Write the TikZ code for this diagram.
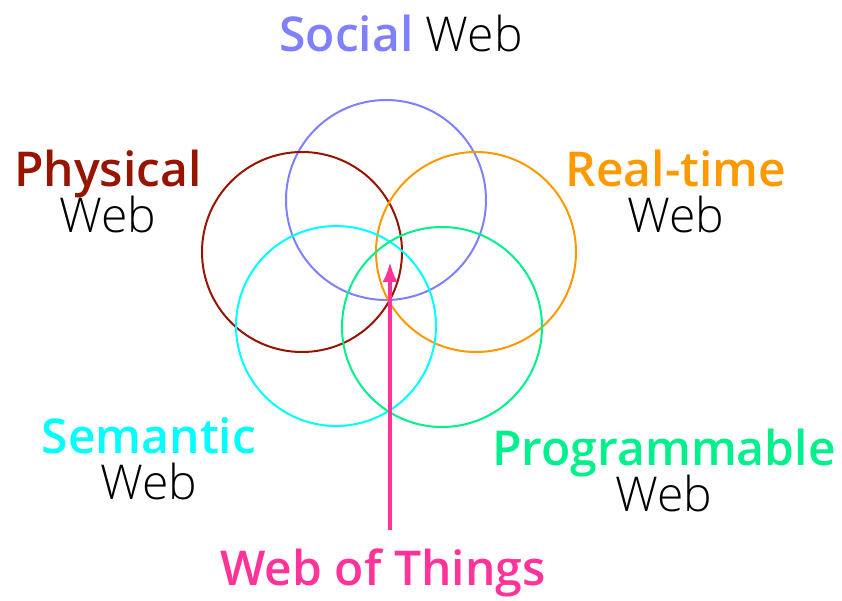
\documentclass[tikz,border=0pt]{standalone}
\usepackage{fontspec}
\setmainfont[UprightFont={Open Sans Light},BoldFont={Open Sans Semibold}]{Open Sans}
\usetikzlibrary{arrows.meta,calc}

\definecolor{socialcol}{RGB}{128,128,255}
\definecolor{physcol}{RGB}{150,20,0}
\definecolor{realcol}{RGB}{255,153,0}
\definecolor{semcol}{RGB}{0,255,255}
\definecolor{progcol}{RGB}{0,240,140}
\definecolor{wotcol}{RGB}{255,51,153}

\begin{document}
\begin{tikzpicture}[x=1pt,y=-1pt,
                ring/.style={circle,draw,line width=2pt,minimum size=200pt,inner sep=0pt},
                big label/.style={anchor=base,inner sep=0pt,font=\fontsize{48}{46}\selectfont}]
                \useasboundingbox (0,0) rectangle (842,601);
                % the five webs
                \node[ring,draw=socialcol] (social) at (386,200) {};
                \node[ring,draw=physcol] (physical) at (302,252) {};
                \node[ring,draw=realcol] (realtime) at (476,252) {};
                \node[ring,draw=semcol] (semantic) at (336,326) {};
                \node[ring,draw=progcol] (programmable) at (442,327) {};

                % labels
                \node[big label] (sociallbl) at (401,52) {\textcolor{socialcol}{\bfseries Social} Web};
                \node[big label,text=physcol] (physlbl) at (108,187) {\bfseries Physical};
                \node[big label] (physweb) at ($(physlbl.base)+(0,46)$) {Web};
                \node[big label,text=realcol] (reallbl) at (676,187) {\bfseries Real-time};
                \node[big label] (realweb) at ($(reallbl.base)+(0,46)$) {Web};
                \node[big label,text=semcol] (semlbl) at (149,453) {\bfseries Semantic};
                \node[big label] (semweb) at ($(semlbl.base)+(0,46)$) {Web};
                \node[big label,text=progcol] (proglbl) at (664,465) {\bfseries Programmable};
                \node[big label] (progweb) at ($(proglbl.base)+(0,46)$) {Web};
                \node[big label,text=wotcol] (wot) at (383,585) {\bfseries Web of Things};

                % pointer to the common core
                \coordinate (wotfoot) at (390,530);
                \coordinate (core) at (390,262);
                \draw[wotcol,line width=3.5pt,-{Latex[length=20pt,width=15pt]}] (wotfoot) -- (core);
\end{tikzpicture}
\end{document}
